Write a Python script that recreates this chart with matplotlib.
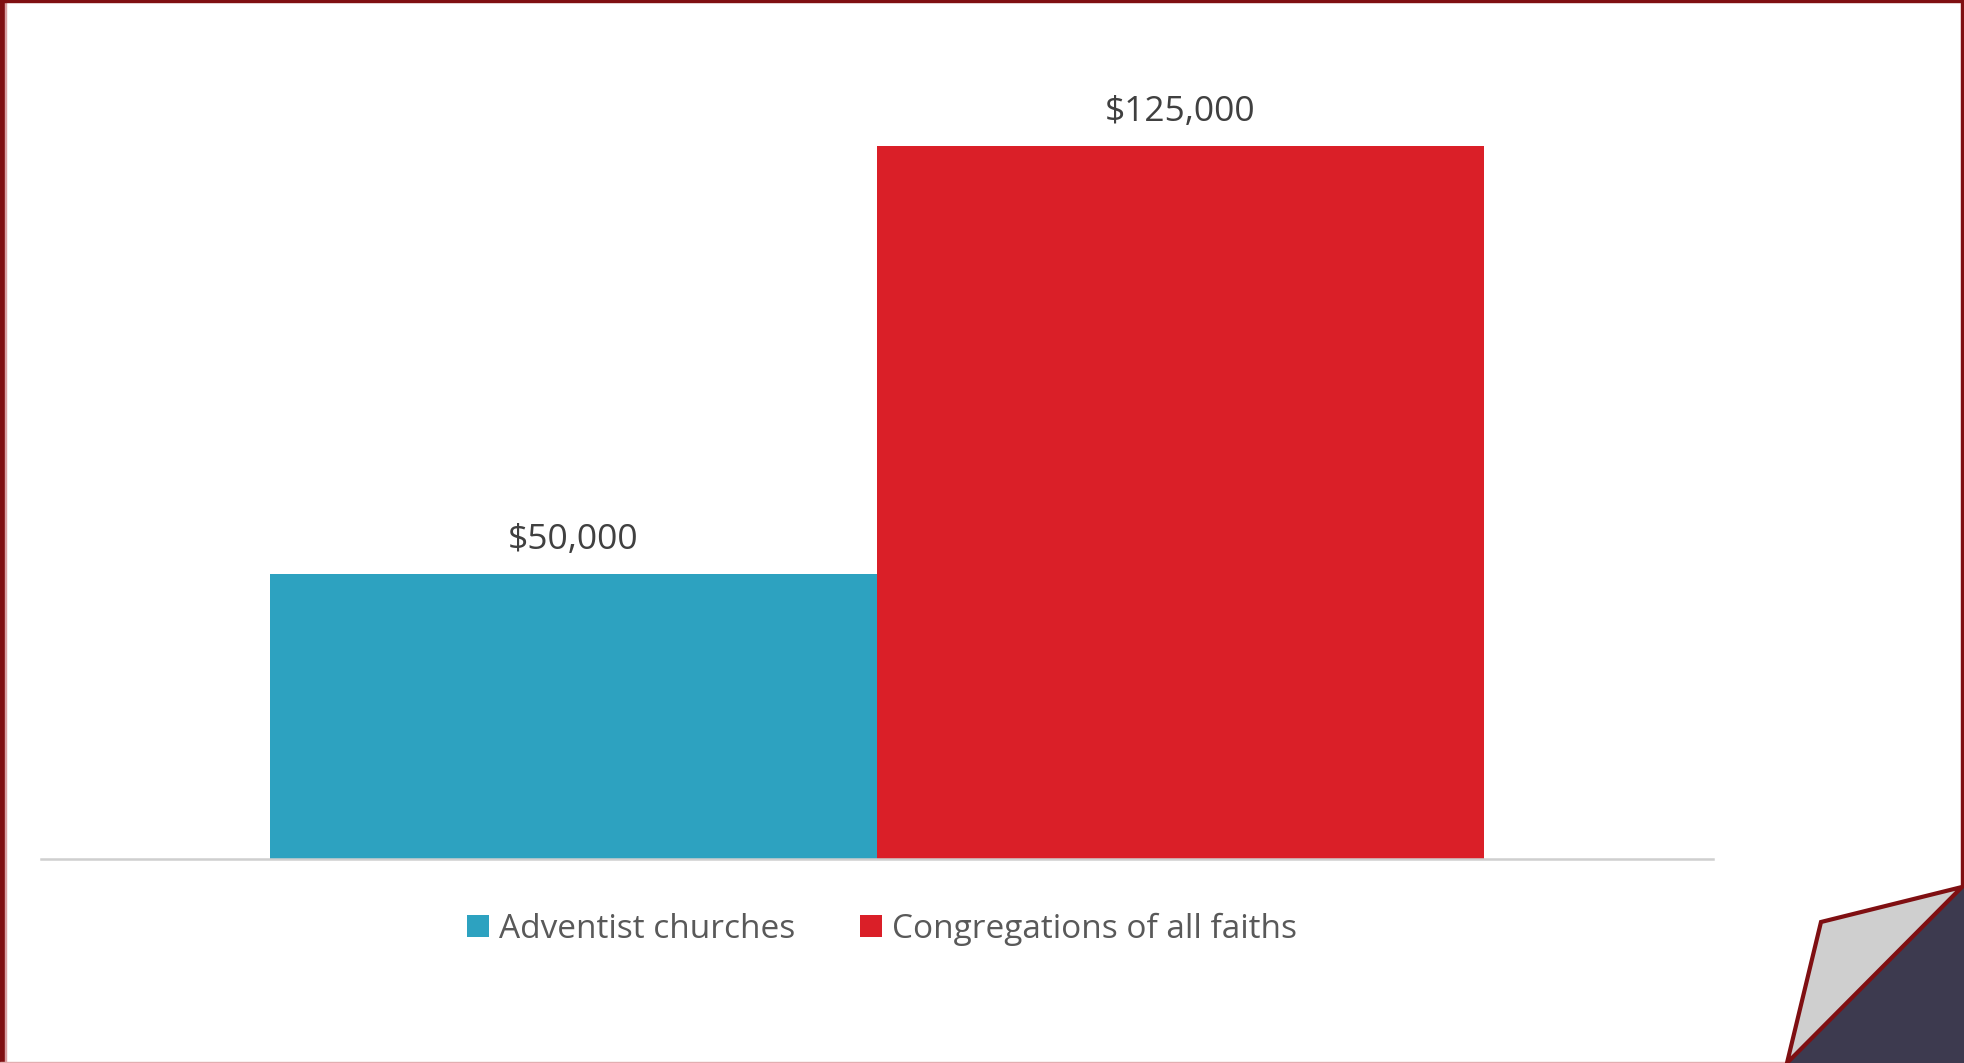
import matplotlib
matplotlib.use("Agg")
import matplotlib.pyplot as plt
from matplotlib.patches import Polygon, Rectangle

# Data
series = ["Adventist churches", "Congregations of all faiths"]
values = [50000, 125000]
labels = ["$50,000", "$125,000"]
colors = ["#2DA2C0", "#DA1F28"]

W, H = 1964, 1063
fig = plt.figure(figsize=(W / 100, H / 100), dpi=100)
fig.patch.set_facecolor("white")

font = ["Open Sans", "DejaVu Sans"]

# axes placement (pixels)
ax_left, ax_right = 41, 1713
ax_base = 859
px_per_unit = 713 / 125000
ymax = 140000
ax_h = ymax * px_per_unit
ax = fig.add_axes([ax_left / W, (H - ax_base) / H, (ax_right - ax_left) / W, ax_h / H])
ax.set_xlim(-0.5, 0.5)
ax.set_ylim(0, ymax)

bw = 607 / 1672
positions = [-bw / 2, bw / 2]
bars = []
for pos, v, c, s, lab in zip(positions, values, colors, series, labels):
    b = ax.bar(pos, v, width=bw, color=c, label=s, zorder=2)
    bars.append(b)
    ax.annotate(lab, xy=(pos, v), xytext=(0, 24.5), textcoords="offset points",
                ha="center", va="center", fontsize=25.5, color="#404040", family=font)

for sp in ["top", "right", "left"]:
    ax.spines[sp].set_visible(False)
ax.spines["bottom"].set_color("#CFCFCF")
ax.spines["bottom"].set_linewidth(1.8)
ax.set_xticks([])
ax.set_yticks([])
ax.patch.set_alpha(0)

leg = fig.legend(handles=[b[0] for b in bars], labels=series, loc="center",
                 bbox_to_anchor=(882 / W, (H - 929) / H), ncol=2, frameon=False,
                 prop={"family": font, "size": 24}, handlelength=0.66, handleheight=0.63,
                 handletextpad=0.3, columnspacing=1.95)
for t in leg.get_texts():
    t.set_color("#595959")

# Border
dark = "#7F0F12"
fig.patches.append(Rectangle((0, 0), 4.5 / W, 1, transform=fig.transFigure, color=dark, zorder=5))
fig.patches.append(Rectangle((4.5 / W, 0), 1.5 / W, 1, transform=fig.transFigure, color="#D9A0A3", zorder=5))
fig.patches.append(Rectangle((0, 1 - 1.8 / H), 1, 1.8 / H, transform=fig.transFigure, color=dark, zorder=5))
fig.patches.append(Rectangle((1 - 3 / W, 0), 3 / W, 1, transform=fig.transFigure, color=dark, zorder=5))
fig.patches.append(Rectangle((0, 0), 1, 1.5 / H, transform=fig.transFigure, color="#E3AEB1", zorder=5))

# Page curl decoration
def P(x, y):
    return (x / W, (H - y) / H)

tri = Polygon([P(1787, 1063), P(1964, 887), P(1964, 1063)], closed=True,
              transform=fig.transFigure, facecolor="#3D3A4F", edgecolor="none", zorder=6)
fig.patches.append(tri)
flap = Polygon([P(1787, 1063), P(1821, 922), P(1962, 887)], closed=True,
               transform=fig.transFigure, facecolor="#CFCFCF", edgecolor=dark,
               linewidth=3, joinstyle="miter", zorder=7)
fig.patches.append(flap)

fig.savefig("out.png", dpi=100, facecolor="white")
